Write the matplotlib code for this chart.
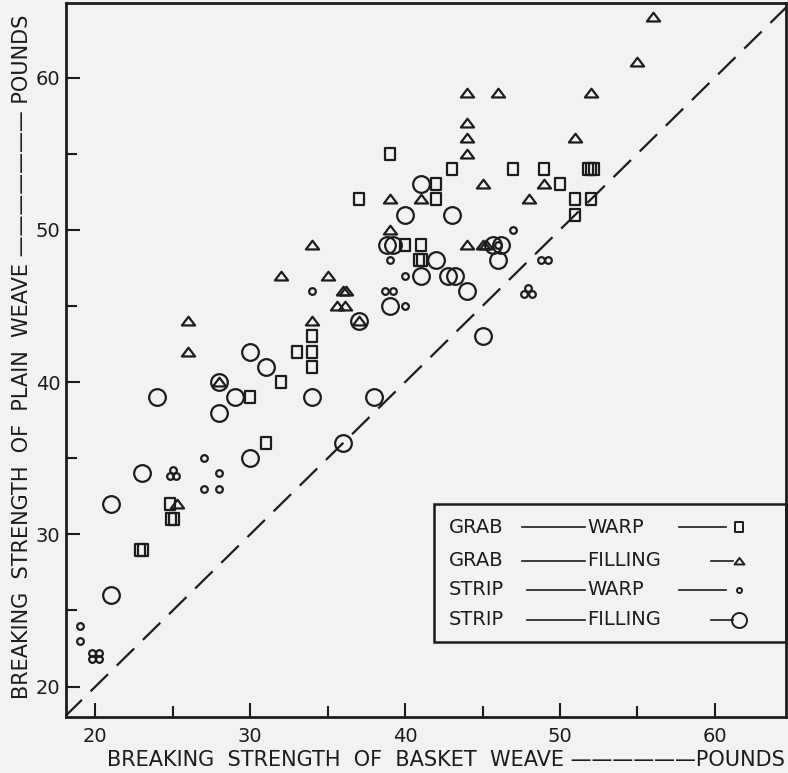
import matplotlib
matplotlib.use("Agg")
import matplotlib.pyplot as plt
from matplotlib.path import Path
from matplotlib.patches import Rectangle
from matplotlib.lines import Line2D

plt.rcParams['font.family'] = ['DejaVu Sans']

# ---------------- data ----------------
grab_warp_x = [39, 37, 43, 47, 49, 51.8, 52, 52.2, 42, 50, 42, 51, 52, 51, 40, 41, 40.9, 41.1,
               34, 33, 34, 34, 32, 30, 31, 24.8, 24.9, 25.1, 22.9, 23.1]
grab_warp_y = [55, 52, 54, 54, 54, 54, 54, 54, 53, 53, 52, 52, 52, 51, 49, 49, 48, 48,
               43, 42, 42, 41, 40, 39, 36, 32, 31, 31, 29, 29]

grab_fill_x = [56, 55, 52, 44, 46, 44, 44, 51, 44, 45, 49, 39, 41, 48, 39, 34, 44, 45, 45.2,
               32, 35, 36, 36.2, 35.6, 36.1, 26, 34, 37, 26, 28, 25.3]
grab_fill_y = [64, 61, 59, 59, 59, 57, 56, 56, 55, 53, 53, 52, 52, 52, 50, 49, 49, 49, 49,
               47, 47, 46, 46, 45, 45, 44, 44, 44, 42, 40, 32]

strip_warp_x = [47, 39, 40, 34, 38.7, 39.2, 40, 46, 48.8, 49.2, 47.7, 48.2, 47.95,
                27, 28, 24.8, 25.2, 25.0, 27, 28, 19, 19, 19.75, 20.25, 19.75, 20.25]
strip_warp_y = [50, 48, 47, 46, 46, 46, 45, 49, 48, 48, 45.8, 45.8, 46.2,
                35, 34, 33.8, 33.8, 34.2, 33, 33, 24, 23, 22.2, 22.2, 21.8, 21.8]

strip_fill_x = [41, 40, 43, 38.8, 39.2, 45.7, 46.2, 42, 46, 41, 42.8, 43.2, 39, 44, 45, 37,
                30, 31, 28, 24, 29, 34, 38, 28, 36, 30, 23, 21, 21]
strip_fill_y = [53, 51, 51, 49, 49, 49, 49, 48, 48, 47, 47, 47, 45, 46, 43, 44,
                42, 41, 40, 39, 39, 39, 39, 38, 36, 35, 34, 32, 26]

x_ticks = [20, 30, 40, 50, 60]
y_ticks = [20, 30, 40, 50, 60]
x_minor = [25, 35, 45, 55]
y_minor = [25, 35, 45, 55]
x_lim = (18.1, 64.6)
y_lim = (18.0, 64.9)

legend_method = ['GRAB', 'GRAB', 'STRIP', 'STRIP']
legend_dir = ['WARP', 'FILLING', 'WARP', 'FILLING']

xlabel = "BREAKING  STRENGTH  OF  BASKET  WEAVE ——————POUNDS"
ylabel = "BREAKING  STRENGTH  OF  PLAIN  WEAVE ——————— POUNDS"

# ---------------- style ----------------
ink = '#1c1c1c'
bg = '#f2f2f0'
sq_marker = Path([(-0.78, -1), (0.78, -1), (0.78, 1), (-0.78, 1), (-0.78, -1)],
                 [Path.MOVETO, Path.LINETO, Path.LINETO, Path.LINETO, Path.CLOSEPOLY])
tri_marker = Path([(-1, -0.6), (1, -0.6), (0, 0.72), (-1, -0.6)],
                  [Path.MOVETO, Path.LINETO, Path.LINETO, Path.CLOSEPOLY])

styles = [
    dict(marker=sq_marker, ms=9.0),
    dict(marker=tri_marker, ms=9.5),
    dict(marker='o', ms=4.8),
    dict(marker='o', ms=12.0),
]

fig = plt.figure(figsize=(7.88, 7.73), dpi=100, facecolor=bg)
ax = fig.add_axes([66 / 788, 1 - 717 / 773, 720 / 788, 714 / 773])
ax.set_facecolor(bg)

series = [(grab_warp_x, grab_warp_y), (grab_fill_x, grab_fill_y),
          (strip_warp_x, strip_warp_y), (strip_fill_x, strip_fill_y)]
for (xs, ys), st in zip(series, styles):
    ax.plot(xs, ys, linestyle='none', marker=st['marker'], ms=st['ms'],
            mfc='none', mec=ink, mew=1.6)

# equality line
lo = min(x_lim[0], y_lim[0])
hi = max(x_lim[1], y_lim[1])
ax.plot([lo, hi], [lo, hi], color=ink, lw=1.6, dashes=(11, 5.5))

ax.set_xlim(*x_lim)
ax.set_ylim(*y_lim)
ax.set_xticks(x_ticks)
ax.set_yticks(y_ticks)
ax.set_xticks(x_minor, minor=True)
ax.set_yticks(y_minor, minor=True)
ax.tick_params(which='both', direction='in', width=1.5, color=ink,
               labelsize=14, labelcolor=ink, top=False, right=False)
ax.tick_params(which='major', length=10)
ax.tick_params(axis='x', which='major', pad=7)
ax.tick_params(axis='y', which='major', pad=4)
ax.tick_params(which='minor', length=8)
for s in ax.spines.values():
    s.set_linewidth(2.0)
    s.set_color(ink)

fig.text(785 / 788, 1 - 760 / 773, xlabel, fontsize=15, color=ink,
         ha='right', va='center')
fig.text(22 / 788, 1 - 357 / 773, ylabel, fontsize=15, color=ink,
         ha='center', va='center', rotation=90)

# legend box
ax.add_patch(Rectangle((0.511, 0.105), 0.489, 0.193, transform=ax.transAxes,
                       fill=False, ec=ink, lw=1.8, zorder=5, clip_on=False))
row_y = [0.266, 0.219, 0.178, 0.136]
for i, (m, d) in enumerate(zip(legend_method, legend_dir)):
    y = row_y[i]
    ax.text(0.532, y, m, transform=ax.transAxes, fontsize=14, color=ink,
            va='center', ha='left')
    ax.add_line(Line2D([0.633 if m == 'GRAB' else 0.640, 0.721], [y, y],
                       transform=ax.transAxes, color=ink, lw=1.2))
    ax.text(0.724, y, d, transform=ax.transAxes, fontsize=14, color=ink,
            va='center', ha='left')
    x_end = 0.917 if d == 'WARP' else 0.927
    x_start = 0.852 if d == 'WARP' else 0.896
    ax.add_line(Line2D([x_start, x_end], [y, y], transform=ax.transAxes,
                       color=ink, lw=1.2))
    st = styles[i]
    ax.add_line(Line2D([0.935], [y], transform=ax.transAxes, linestyle='none',
                       marker=st['marker'], ms=st['ms'] * (0.75 if i != 3 else 0.9),
                       mfc='none', mec=ink, mew=1.4))

fig.savefig('out.png', dpi=100, facecolor=bg)
